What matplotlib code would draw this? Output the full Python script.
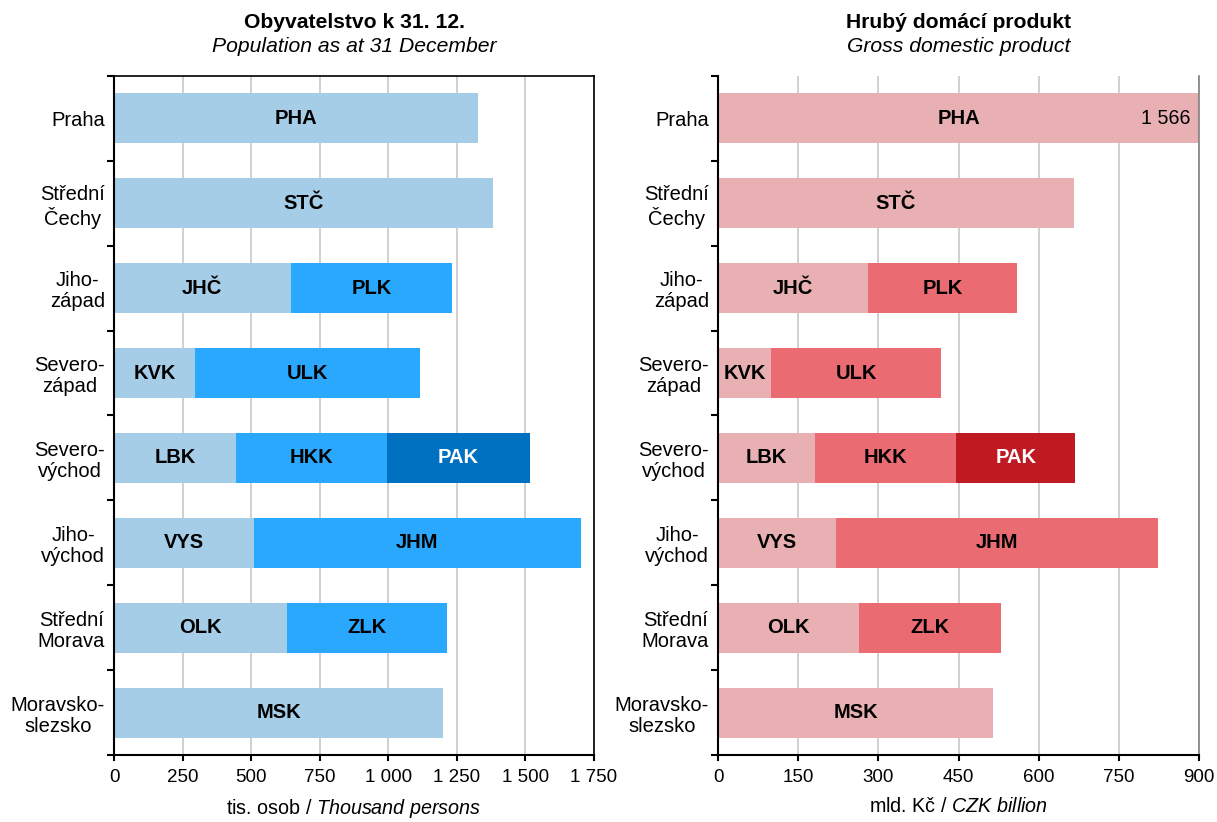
import matplotlib
matplotlib.use("Agg")
import matplotlib.pyplot as plt
from matplotlib.ticker import FuncFormatter, FixedLocator

plt.rcParams['font.family'] = ['Liberation Sans', 'DejaVu Sans']
plt.rcParams['mathtext.fontset'] = 'custom'
plt.rcParams['mathtext.rm'] = 'Liberation Sans'
plt.rcParams['mathtext.it'] = 'Liberation Sans:italic'

regions = ["Praha", "Střední\nČechy", "Jiho-\nzápad", "Severo-\nzápad",
           "Severo-\nvýchod", "Jiho-\nvýchod", "Střední\nMorava", "Moravsko-\nslezsko"]

# Segments per region: (code, population [thousand], GDP [CZK bn])
seg1_codes = ["PHA", "STČ", "JHČ", "KVK", "LBK", "VYS", "OLK", "MSK"]
seg1_pop = [1327, 1383, 644, 295, 444, 510, 632, 1200]
seg1_gdp = [1566, 666, 281, 100, 182, 221, 264, 515]

seg2_codes = [None, None, "PLK", "ULK", "HKK", "JHM", "ZLK", None]
seg2_pop = [0, 0, 589, 820, 550, 1191, 583, 0]
seg2_gdp = [0, 0, 279, 317, 264, 602, 266, 0]

seg3_codes = [None, None, None, None, "PAK", None, None, None]
seg3_pop = [0, 0, 0, 0, 524, 0, 0, 0]
seg3_gdp = [0, 0, 0, 0, 222, 0, 0, 0]

pop_ticks = [0, 250, 500, 750, 1000, 1250, 1500, 1750]
gdp_ticks = [0, 150, 300, 450, 600, 750, 900]

blue = ["#a6cde8", "#2aa8fe", "#0070c0"]
red = ["#e8b0b3", "#eb6b72", "#bf1a22"]
seg_text_col = ["black", "black", "white"]

W, H = 1217, 822
fig = plt.figure(figsize=(W / 100, H / 100), dpi=100)

def fmt(v, pos=None):
    return f"{int(v):,}".replace(",", " ")

def draw(ax, segs, codes, colors, ticks, xmax, title, subtitle, xlabel, top_spine, right_col):
    n = len(regions)
    y = list(range(n))
    lefts = [0] * n
    for k, (vals, cds) in enumerate(zip(segs, codes)):
        ax.barh(y, vals, left=lefts, height=0.59, color=colors[k], zorder=2)
        for i in range(n):
            if cds[i] is None:
                continue
            start = lefts[i]
            end = min(lefts[i] + vals[i], xmax)
            ax.text((start + end) / 2, i, cds[i], ha='center', va='center',
                    fontsize=14.5, fontweight='bold', color=seg_text_col[k], zorder=3)
        lefts = [a + b for a, b in zip(lefts, vals)]
    ax.set_xlim(0, xmax)
    ax.set_ylim(n - 0.5, -0.5)
    ax.set_xticks(ticks)
    ax.xaxis.set_major_formatter(FuncFormatter(fmt))
    ax.set_yticks(y)
    ax.set_yticklabels(regions, fontsize=14.5, multialignment='center', linespacing=1.15)
    ax.yaxis.set_minor_locator(FixedLocator([i - 0.5 for i in range(n + 1)]))
    ax.tick_params(axis='y', which='major', length=0, pad=6.5)
    ax.tick_params(axis='y', which='minor', length=5, width=1.5, direction='out')
    ax.tick_params(axis='x', length=4, width=1.5, direction='out', pad=6, labelsize=13.5)
    ax.grid(axis='x', color='#c8c8c8', linewidth=1.2, zorder=0)
    ax.set_axisbelow(True)
    for s in ['left', 'bottom']:
        ax.spines[s].set_linewidth(1.5)
        ax.spines[s].set_color('black')
    ax.spines['right'].set_color(right_col)
    ax.spines['right'].set_linewidth(1.2)
    if top_spine:
        ax.spines['top'].set_color('black')
        ax.spines['top'].set_linewidth(1.2)
    else:
        ax.spines['top'].set_visible(False)
    ax.text(0.5, 1.0795, title, transform=ax.transAxes, ha='center', va='center',
            fontsize=15.2, fontweight='bold')
    ax.text(0.5, 1.043, subtitle, transform=ax.transAxes, ha='center', va='center',
            fontsize=15.2, style='italic')
    ax.set_xlabel(xlabel, fontsize=14.2, labelpad=8)

ax1 = fig.add_axes([114 / W, (H - 755) / H, 480 / W, 679 / H])
draw(ax1, [seg1_pop, seg2_pop, seg3_pop], [seg1_codes, seg2_codes, seg3_codes], blue,
     pop_ticks, 1750, "Obyvatelstvo k 31. 12.", "Population as at 31 December",
     r"tis. osob / $\mathit{Thousand\ persons}$", True, 'black')

ax2 = fig.add_axes([718 / W, (H - 755) / H, 481 / W, 679 / H])
draw(ax2, [seg1_gdp, seg2_gdp, seg3_gdp], [seg1_codes, seg2_codes, seg3_codes], red,
     gdp_ticks, 900, "Hrubý domácí produkt", "Gross domestic product",
     r"mld. Kč / $\mathit{CZK\ billion}$", False, '#808080')

# value label for the clipped Praha GDP bar
ax2.annotate(fmt(seg1_gdp[0]), xy=(900, 0), xytext=(-9, 0), textcoords='offset pixels',
             ha='right', va='center', fontsize=14.2, zorder=4)

fig.savefig("out.png", dpi=100)
